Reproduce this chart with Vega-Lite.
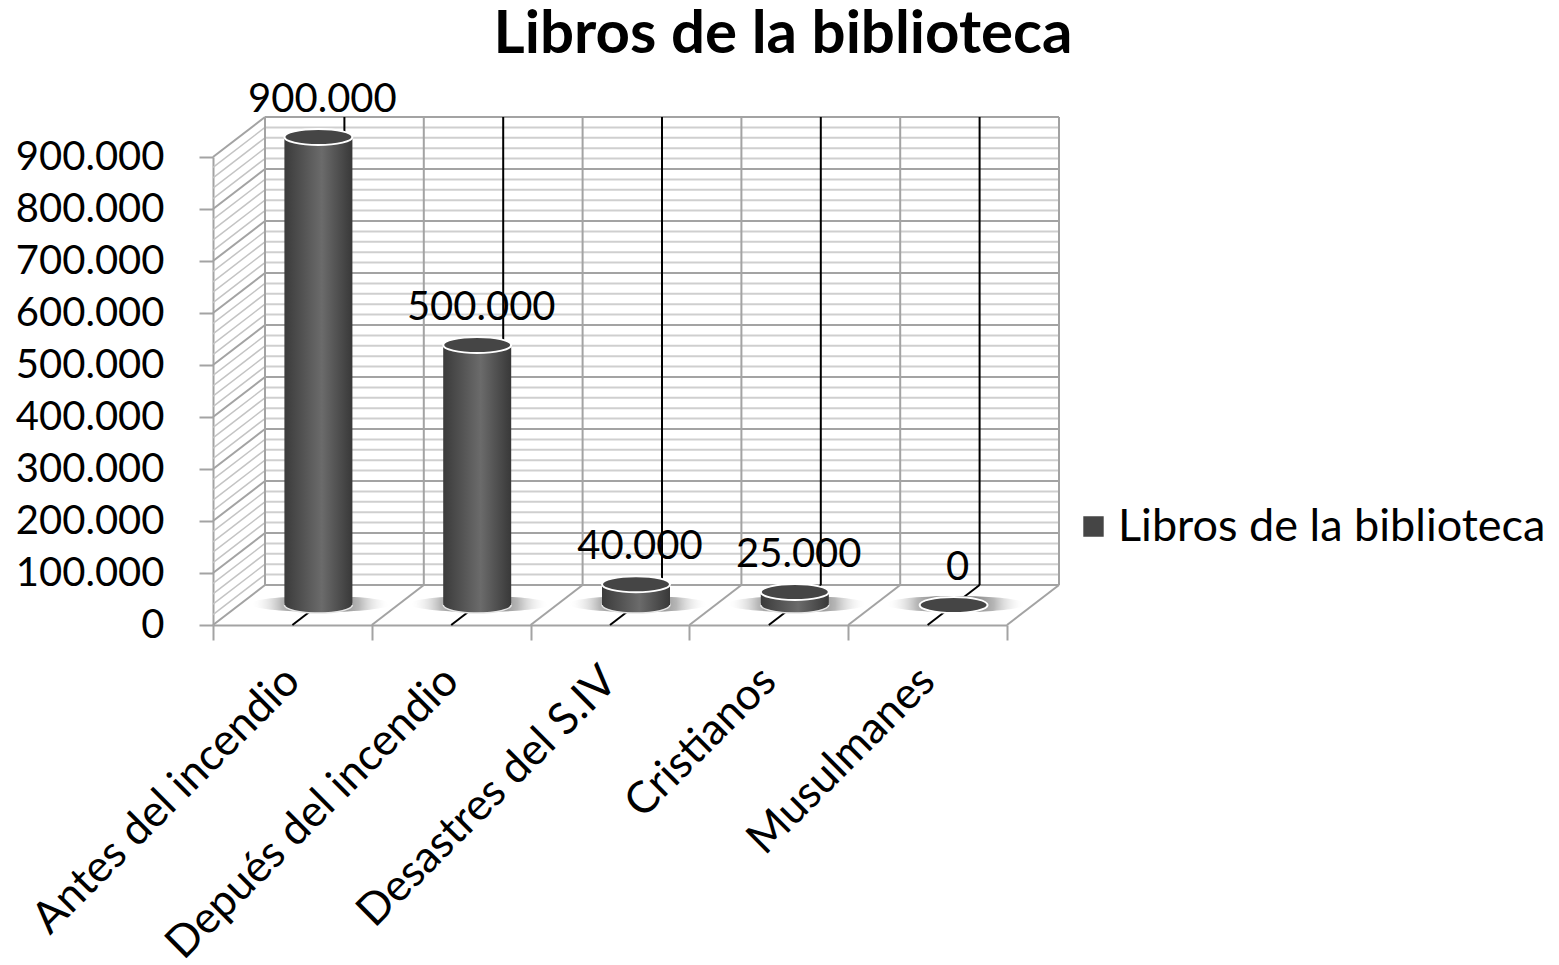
{
  "$schema": "https://vega.github.io/schema/vega-lite/v6.json",
  "width": 794,
  "height": 468,
  "autosize": {"type": "none"},
  "padding": {"left": 213, "top": 157, "right": 552, "bottom": 340},
  "background": "white",
  "title": {"text": "Libros de la biblioteca", "font": "Lato", "fontSize": 60, "fontWeight": "bold", "color": "black", "anchor": "middle", "frame": "group", "dx": 173, "offset": -33, "baseline": "alphabetic"},
  "config": {
    "font": "Lato",
    "numberFormat": ",",
    "view": {"stroke": null},
    "locale": {"number": {"decimal": ",", "thousands": ".", "grouping": [3], "currency": ["", " €"]}}
  },
  "datasets": {
    "libros": [
      {"categoria": "Antes del incendio", "libros": 900000},
      {"categoria": "Depués del incendio", "libros": 500000},
      {"categoria": "Desastres del S.IV", "libros": 40000},
      {"categoria": "Cristianos", "libros": 25000},
      {"categoria": "Musulmanes", "libros": 0}
    ],
    "mayores": [
      {"valor": 0}, {"valor": 100000}, {"valor": 200000}, {"valor": 300000}, {"valor": 400000},
      {"valor": 500000}, {"valor": 600000}, {"valor": 700000}, {"valor": 800000}, {"valor": 900000}
    ],
    "menores": [
      {"valor": 20000}, {"valor": 40000}, {"valor": 60000}, {"valor": 80000},
      {"valor": 120000}, {"valor": 140000}, {"valor": 160000}, {"valor": 180000},
      {"valor": 220000}, {"valor": 240000}, {"valor": 260000}, {"valor": 280000},
      {"valor": 320000}, {"valor": 340000}, {"valor": 360000}, {"valor": 380000},
      {"valor": 420000}, {"valor": 440000}, {"valor": 460000}, {"valor": 480000},
      {"valor": 520000}, {"valor": 540000}, {"valor": 560000}, {"valor": 580000},
      {"valor": 620000}, {"valor": 640000}, {"valor": 660000}, {"valor": 680000},
      {"valor": 720000}, {"valor": 740000}, {"valor": 760000}, {"valor": 780000},
      {"valor": 820000}, {"valor": 840000}, {"valor": 860000}, {"valor": 880000}
    ]
  },
  "layer": [
    {
      "data": {"name": "menores"},
      "mark": {"type": "rule", "color": "#cfcfcf", "strokeWidth": 2, "xOffset": 52, "x2Offset": 52, "yOffset": -40, "y2Offset": -40},
      "encoding": {
        "x": {"datum": "Antes del incendio", "bandPosition": 0},
        "x2": {"datum": "Musulmanes", "bandPosition": 1},
        "y": {"field": "valor", "type": "quantitative", "title": null},
        "y2": {"field": "valor"}
      }
    },
    {
      "data": {"name": "mayores"},
      "mark": {"type": "rule", "color": "#a3a3a3", "strokeWidth": 2, "xOffset": 52, "x2Offset": 52, "yOffset": -40, "y2Offset": -40},
      "encoding": {
        "x": {"datum": "Antes del incendio", "bandPosition": 0},
        "x2": {"datum": "Musulmanes", "bandPosition": 1},
        "y": {"field": "valor", "type": "quantitative", "title": null},
        "y2": {"field": "valor"}
      }
    },
    {
      "data": {"name": "menores"},
      "mark": {"type": "rule", "color": "#c4c4c4", "strokeWidth": 1.5, "x2Offset": 52, "y2Offset": -40},
      "encoding": {
        "x": {"datum": "Antes del incendio", "bandPosition": 0},
        "x2": {"datum": "Antes del incendio", "bandPosition": 0},
        "y": {"field": "valor", "type": "quantitative", "title": null},
        "y2": {"field": "valor"}
      }
    },
    {
      "data": {"name": "mayores"},
      "mark": {"type": "rule", "color": "#a3a3a3", "strokeWidth": 2, "x2Offset": 52, "y2Offset": -40},
      "encoding": {
        "x": {"datum": "Antes del incendio", "bandPosition": 0},
        "x2": {"datum": "Antes del incendio", "bandPosition": 0},
        "y": {"field": "valor", "type": "quantitative", "title": null},
        "y2": {"field": "valor"}
      }
    },
    {
      "data": {"name": "libros"},
      "mark": {"type": "rule", "color": "#a3a3a3", "strokeWidth": 2, "xOffset": 52, "yOffset": -40, "y2Offset": -40},
      "encoding": {
        "x": {"field": "categoria", "type": "nominal", "bandPosition": 1, "title": null},
        "y": {"datum": 0},
        "y2": {"datum": 900000}
      }
    },
    {
      "data": {"name": "libros"},
      "transform": [{"filter": "datum.categoria === 'Antes del incendio'"}],
      "mark": {"type": "rule", "color": "#a3a3a3", "strokeWidth": 2, "xOffset": 52, "yOffset": -40, "y2Offset": -40},
      "encoding": {
        "x": {"field": "categoria", "type": "nominal", "bandPosition": 0, "title": null},
        "y": {"datum": 0},
        "y2": {"datum": 900000}
      }
    },
    {
      "data": {"name": "libros"},
      "mark": {"type": "rule", "color": "#a3a3a3", "strokeWidth": 2, "x2Offset": 52, "y2Offset": -40},
      "encoding": {
        "x": {"field": "categoria", "type": "nominal", "bandPosition": 1, "title": null},
        "x2": {"field": "categoria", "bandPosition": 1},
        "y": {"datum": 0},
        "y2": {"datum": 0}
      }
    },
    {
      "data": {"name": "libros"},
      "mark": {"type": "rule", "color": "black", "strokeWidth": 2, "xOffset": 52, "yOffset": -40, "y2Offset": -40},
      "encoding": {
        "x": {"field": "categoria", "type": "nominal", "title": null},
        "y": {"datum": 0},
        "y2": {"datum": 900000}
      }
    },
    {
      "data": {"name": "libros"},
      "mark": {"type": "rule", "color": "black", "strokeWidth": 2, "x2Offset": 52, "y2Offset": -40},
      "encoding": {
        "x": {"field": "categoria", "type": "nominal", "title": null},
        "x2": {"field": "categoria"},
        "y": {"datum": 0},
        "y2": {"datum": 0}
      }
    },
    {
      "data": {"name": "libros"},
      "mark": {
        "type": "point", "filled": true, "size": 19600, "xOffset": 28, "yOffset": -21, "strokeWidth": 0,
        "shape": "M -1 0 A 1 0.115 0 1 1 1 0 A 1 0.115 0 1 1 -1 0 Z",
        "opacity": 1,
        "fill": {"gradient": "radial", "x1": 0.5, "y1": 0.5, "r1": 0, "x2": 0.5, "y2": 0.5, "r2": 0.5,
          "stops": [{"offset": 0, "color": "rgba(50,50,50,0.9)"}, {"offset": 0.55, "color": "rgba(110,110,110,0.5)"}, {"offset": 1, "color": "rgba(255,255,255,0)"}]}
      },
      "encoding": {
        "x": {"field": "categoria", "type": "nominal", "title": null},
        "y": {"datum": 0}
      }
    },
    {
      "data": {"name": "libros"},
      "transform": [{"filter": "datum.libros > 0"}],
      "mark": {
        "type": "point", "filled": true, "size": 4624, "xOffset": 26, "yOffset": -20, "opacity": 1,
        "shape": "M -1 0 A 1 0.235 0 1 1 1 0 A 1 0.235 0 1 1 -1 0 Z",
        "stroke": "#e6e6e6", "strokeWidth": 1.5,
        "fill": {"gradient": "linear", "x1": 0, "y1": 0, "x2": 1, "y2": 0,
          "stops": [{"offset": 0, "color": "#3b3b3b"}, {"offset": 0.55, "color": "#6b6b6b"}, {"offset": 1, "color": "#383838"}]}
      },
      "encoding": {
        "x": {"field": "categoria", "type": "nominal", "title": null},
        "y": {"datum": 0}
      }
    },
    {
      "data": {"name": "libros"},
      "mark": {
        "type": "bar", "width": 68, "xOffset": 26, "yOffset": -20, "y2Offset": -20,
        "fill": {"gradient": "linear", "x1": 0, "y1": 0, "x2": 1, "y2": 0,
          "stops": [{"offset": 0, "color": "#3b3b3b"}, {"offset": 0.55, "color": "#6b6b6b"}, {"offset": 1, "color": "#383838"}]}
      },
      "encoding": {
        "x": {
          "field": "categoria", "type": "nominal", "sort": null, "title": null,
          "scale": {"domain": ["Antes del incendio", "Depués del incendio", "Desastres del S.IV", "Cristianos", "Musulmanes"], "paddingInner": 0, "paddingOuter": 0},
          "axis": {
            "domainColor": "#a3a3a3", "domainWidth": 2, "tickColor": "#a3a3a3", "tickWidth": 2, "tickSize": 15,
            "tickBand": "extent", "labelAngle": -45, "labelAlign": "right", "labelBaseline": "middle",
            "labelFontSize": 44, "labelFont": "Lato", "labelColor": "black", "labelPadding": 34,
            "labelLimit": 1000, "labelOverlap": false, "grid": false, "title": null
          }
        },
        "y": {
          "field": "libros", "type": "quantitative", "title": null,
          "scale": {"domain": [0, 900000], "nice": false, "zero": true},
          "axis": {
            "values": [0, 100000, 200000, 300000, 400000, 500000, 600000, 700000, 800000, 900000],
            "format": ",", "labelExpr": "format(datum.value, ',')",
            "domainColor": "#a3a3a3", "domainWidth": 2, "tickColor": "#a3a3a3", "tickWidth": 2,
            "tickSize": 14, "labelFontSize": 40, "labelFont": "Lato", "labelColor": "black", "labelPadding": 35,
            "labelOverlap": false, "labelFlush": false, "grid": false, "title": null
          }
        }
      }
    },
    {
      "data": {"name": "libros"},
      "mark": {
        "type": "point", "filled": true, "size": 4624, "xOffset": 26, "yOffset": -20, "opacity": 1,
        "shape": "M -1 0 A 1 0.235 0 1 1 1 0 A 1 0.235 0 1 1 -1 0 Z",
        "stroke": "white", "strokeWidth": 2
      },
      "encoding": {
        "x": {"field": "categoria", "type": "nominal", "title": null},
        "y": {"field": "libros", "type": "quantitative", "title": null},
        "color": {
          "datum": "Libros de la biblioteca",
          "scale": {"range": ["#454545"]},
          "legend": {
            "orient": "none", "legendX": 858, "legendY": 347, "title": null, "padding": 0,
            "symbolType": "square", "symbolSize": 480, "labelFontSize": 45, "labelFont": "Lato",
            "labelColor": "black", "labelOffset": 2, "labelLimit": 1000,
            "encode": {"symbols": {"update": {"shape": {"value": "square"}, "fill": {"value": "#666666"}, "stroke": {"value": "#999999"}, "strokeWidth": {"value": 1}, "opacity": {"value": 1}}}}
          }
        }
      }
    },
    {
      "data": {"name": "libros"},
      "mark": {"type": "text", "fontSize": 40, "font": "Lato", "color": "black", "align": "center", "baseline": "alphabetic", "xOffset": 30, "yOffset": -45},
      "encoding": {
        "x": {"field": "categoria", "type": "nominal", "title": null},
        "y": {"field": "libros", "type": "quantitative", "title": null},
        "text": {"field": "libros", "type": "quantitative", "format": ","}
      }
    }
  ]
}
